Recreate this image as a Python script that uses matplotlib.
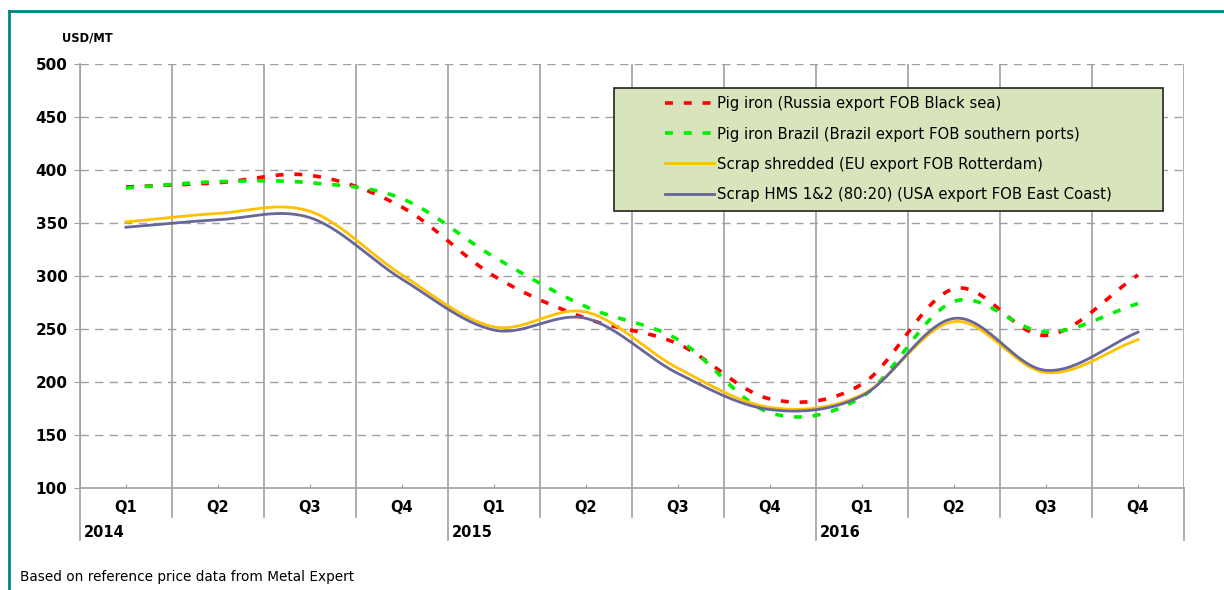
import numpy as np
import matplotlib
matplotlib.use("Agg")
import matplotlib.pyplot as plt
import matplotlib.patches as patches
import matplotlib.transforms as mtransforms
from matplotlib.lines import Line2D

plt.rcParams['font.family'] = ['DejaVu Sans']

quarters = ['Q1', 'Q2', 'Q3', 'Q4'] * 3
years = ['2014', '2015', '2016']

russia = [384, 388, 395, 365, 300, 260, 236, 184, 198, 288, 244, 301]
brazil = [383, 389, 388, 373, 318, 271, 240, 171, 186, 276, 247, 274]
eu_scrap = [351, 359, 361, 301, 252, 266, 213, 176, 188, 257, 209, 240]
usa_scrap = [346, 353, 355, 297, 249, 260, 208, 174, 187, 260, 211, 247]

labels = ['Pig iron (Russia export FOB Black sea)',
          'Pig iron Brazil (Brazil export FOB southern ports)',
          'Scrap shredded (EU export FOB Rotterdam)',
          'Scrap HMS 1&2 (80:20) (USA export FOB East Coast)']
colors = ['#ff0000', '#00ee00', '#ffc000', '#666699']


def smooth(x, y, n=30):
    """
    Сглаживание как в Excel (Catmull-Rom).
    """
    x = np.asarray(x, float)
    y = np.asarray(y, float)
    px = np.concatenate([[2 * x[0] - x[1]], x, [2 * x[-1] - x[-2]]])
    py = np.concatenate([[2 * y[0] - y[1]], y, [2 * y[-1] - y[-2]]])
    xs, ys = [], []
    t = np.linspace(0, 1, n, endpoint=False)
    for i in range(1, len(px) - 2):
        for p, out in ((px, xs), (py, ys)):
            p0, p1, p2, p3 = p[i - 1], p[i], p[i + 1], p[i + 2]
            out.extend(0.5 * (2 * p1 + (-p0 + p2) * t + (2 * p0 - 5 * p1 + 4 * p2 - p3) * t ** 2
                              + (-p0 + 3 * p1 - 3 * p2 + p3) * t ** 3))
    xs.append(x[-1])
    ys.append(y[-1])
    return np.array(xs), np.array(ys)


W, H = 1224, 590
fig = plt.figure(figsize=(W / 100, H / 100), dpi=100)
ax = fig.add_axes([80 / W, 1 - 488 / H, (1184 - 80) / W, (488 - 64) / H])

# рамка вокруг картинки
fig.add_artist(Line2D([8.5 / W, 8.5 / W], [0, 1 - 11 / H], color='#00857f', lw=2, transform=fig.transFigure))
fig.add_artist(Line2D([8.5 / W, 1], [1 - 11 / H, 1 - 11 / H], color='#00857f', lw=2, transform=fig.transFigure))

x = np.arange(len(quarters)) + 0.5
grid_c = '#a0a0a0'

ax.set_xlim(0, len(quarters))
ax.set_ylim(100, 500)
yt = np.arange(100, 501, 50)
ax.set_yticks(yt)
ax.set_yticklabels([str(v) for v in yt], fontsize=11, fontweight='bold')
for v in yt[1:]:
    ax.axhline(v, color=grid_c, lw=1, ls=(0, (6, 4.5)), zorder=1)
for b in range(0, len(quarters) + 1):
    ax.axvline(b, color=grid_c, lw=1.2, zorder=1)

ax.set_xticks(x)
ax.set_xticklabels([])
ax.tick_params(axis='x', direction='in', length=3, color=grid_c)
ax.tick_params(axis='y', direction='out', length=4, color=grid_c, pad=5)
for s in ['top', 'right']:
    ax.spines[s].set_visible(False)
for s in ['left', 'bottom']:
    ax.spines[s].set_color(grid_c)
    ax.spines[s].set_linewidth(1.2)

# подписи кварталов и лет
trans = mtransforms.blended_transform_factory(ax.transData, ax.transAxes)
for b in range(0, len(quarters) + 1):
    low = -0.123 if b % 4 == 0 else -0.068
    ax.plot([b, b], [0, low], color=grid_c, lw=1.2, transform=trans, clip_on=False)
for xi, q in zip(x, quarters):
    ax.text(xi, -0.045, q, transform=trans, ha='center', va='center', fontsize=10.5, fontweight='bold')
for i, yr in enumerate(years):
    ax.text(i * 4 + 0.04, -0.104, yr, transform=trans, ha='left', va='center', fontsize=10.5, fontweight='bold')

styles = [dict(ls=(0, (2.2, 3)), lw=2.6), dict(ls=(0, (2.2, 3)), lw=2.6),
          dict(ls='-', lw=2), dict(ls='-', lw=2)]
handles = []
for series, c, st, lab in zip([russia, brazil, eu_scrap, usa_scrap], colors, styles, labels):
    sx, sy = smooth(x, series)
    h, = ax.plot(sx, sy, color=c, zorder=3, label=lab, **st)
    handles.append(h)

# легенда
fig.add_artist(patches.Rectangle((614 / W, 1 - 211 / H), (1163 - 614) / W, (211 - 88) / H,
                                 transform=fig.transFigure, facecolor='#d8e4bc',
                                 edgecolor='#222222', lw=1.2, zorder=5))
leg = fig.legend(handles=handles, loc='upper left', bbox_to_anchor=(652 / W, 1 - 83 / H),
                 frameon=False, fontsize=10.7, handlelength=3.3, handletextpad=0.2,
                 labelspacing=1.02)
leg.set_zorder(6)

fig.text(62 / W, 1 - 38 / H, 'USD/MT', fontsize=8.3, fontweight='bold', va='center', ha='left')
fig.text(20 / W, 1 - 577 / H, 'Based on reference price data from Metal Expert', fontsize=9.8,
         va='center', ha='left')

fig.savefig('out.png', dpi=100)
